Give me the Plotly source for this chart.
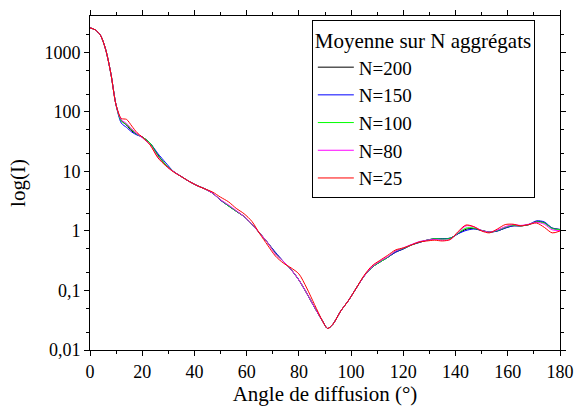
import plotly.graph_objects as go

angles = [0,2,4,6,8,10,12,14,16,18,20,23,26,29,32,35,38,41,44,47,50,53,56,59,62,65,68,71,74,77,80,83,86,89,91,93,96,99,102,105,108,111,114,117,120,123,126,129,132,135,138,141,144,147,150,153,156,159,162,165,168,171,174,177,180]

n200 = [2600,2400,1950,1120,440,130,72,60,48,42,38,30,19,13,10,8.2,6.8,5.8,5.1,4.3,3.3,2.65,2.15,1.75,1.3,0.92,0.64,0.43,0.31,0.225,0.15,0.090,0.052,0.031,0.023,0.027,0.045,0.068,0.11,0.175,0.245,0.30,0.36,0.44,0.50,0.58,0.64,0.70,0.74,0.74,0.76,0.90,1.07,1.10,1.02,0.96,1.00,1.12,1.22,1.22,1.28,1.45,1.38,1.12,1.06]
n150 = [2600,2400,1950,1120,440,130,65,55,46,41,38,30,20,14,10,8.2,6.8,5.8,5.1,4.3,3.3,2.65,2.15,1.75,1.3,0.92,0.64,0.44,0.31,0.225,0.15,0.090,0.052,0.031,0.023,0.027,0.045,0.068,0.11,0.175,0.245,0.30,0.36,0.44,0.50,0.58,0.64,0.70,0.74,0.74,0.76,0.90,1.02,1.08,1.02,0.96,1.00,1.12,1.22,1.22,1.28,1.48,1.42,1.12,1.06]
n100 = [2600,2400,1950,1120,440,130,70,62,50,42,38,30,18.5,13,10,8.2,6.8,5.8,5.1,4.3,3.35,2.65,2.15,1.75,1.3,0.92,0.64,0.42,0.31,0.225,0.15,0.090,0.052,0.031,0.023,0.027,0.045,0.068,0.11,0.175,0.245,0.30,0.36,0.46,0.51,0.58,0.65,0.70,0.74,0.73,0.75,0.92,1.12,1.12,1.02,0.96,1.02,1.15,1.25,1.22,1.28,1.42,1.36,1.10,1.05]
n80 = [2600,2400,1950,1120,440,130,74,64,52,43,37,28,17.5,12.5,10,8.2,6.8,5.8,5.1,4.3,3.35,2.75,2.2,1.75,1.3,0.92,0.64,0.41,0.31,0.225,0.15,0.090,0.052,0.031,0.023,0.027,0.045,0.068,0.11,0.175,0.25,0.31,0.37,0.46,0.52,0.59,0.66,0.70,0.72,0.70,0.72,0.95,1.22,1.18,1.02,0.96,1.04,1.18,1.28,1.24,1.30,1.40,1.30,1.05,1.02]
n25 = [2600,2400,1950,1120,440,130,78,75,58,45,38,28,17,12.5,9.8,8.2,6.8,5.8,5.1,4.5,3.7,3.1,2.4,1.95,1.45,0.9,0.58,0.38,0.29,0.24,0.19,0.11,0.058,0.031,0.023,0.027,0.045,0.068,0.11,0.18,0.26,0.32,0.39,0.48,0.52,0.58,0.65,0.68,0.70,0.68,0.72,0.98,1.26,1.18,1.00,0.93,1.08,1.28,1.30,1.22,1.28,1.36,1.15,0.93,1.00]

series_names = ["N=200", "N=150", "N=100", "N=80", "N=25"]
series_colors = ["#000000", "#0000FF", "#00FF00", "#FF00FF", "#FF0000"]
series_values = [n200, n150, n100, n80, n25]

xtickvals = [0, 20, 40, 60, 80, 100, 120, 140, 160, 180]
ytickvals = [0.01, 0.1, 1, 10, 100, 1000]
yticktext = ["0,01", "0,1", "1", "10", "100", "1000"]

FONT = "Liberation Serif, Times New Roman, serif"

fig = go.Figure()
for name, color, vals in zip(series_names, series_colors, series_values):
    fig.add_trace(go.Scatter(x=angles, y=vals, mode="lines", name=name,
                             line=dict(color=color, width=1, shape="spline", smoothing=0.8)))

fig.update_layout(
    width=584, height=407,
    margin=dict(l=90, r=20, t=10, b=51),
    paper_bgcolor="white", plot_bgcolor="white",
    font=dict(family=FONT, size=18, color="black"),
    showlegend=True,
    legend=dict(
        title=dict(text="Moyenne sur N aggrégats", font=dict(family=FONT, size=21)),
        font=dict(family=FONT, size=19),
        x=0.472, y=0.988, xanchor="left", yanchor="top",
        bgcolor="white", bordercolor="black", borderwidth=1,
        tracegroupgap=0, itemwidth=36,
    ),
)
fig.update_xaxes(
    range=[0, 180], tickvals=xtickvals,
    ticks="outside", ticklen=5, tickwidth=1, tickcolor="black",
    minor=dict(dtick=10, tick0=0, ticks="outside", ticklen=3, tickcolor="black", showgrid=False),
    showline=True, linecolor="black", linewidth=1, mirror="ticks",
    showgrid=False, zeroline=False,
    title=dict(text="Angle de diffusion (°)", font=dict(family=FONT, size=21), standoff=1),
    tickfont=dict(family=FONT, size=18),
)
fig.update_yaxes(
    type="log", range=[-2, 3.613],
    tickvals=ytickvals, ticktext=yticktext,
    ticks="outside", ticklen=5, tickwidth=1, tickcolor="black",
    minor=dict(ticks="outside", ticklen=3, tickcolor="black", showgrid=False),
    showline=True, linecolor="black", linewidth=1, mirror="ticks",
    showgrid=False, zeroline=False,
    title=dict(text="log(I)", font=dict(family=FONT, size=21), standoff=13),
    tickfont=dict(family=FONT, size=18),
)

fig.write_html("out.html", config={"displayModeBar": False},
               post_script="document.body.style.margin='0';")
